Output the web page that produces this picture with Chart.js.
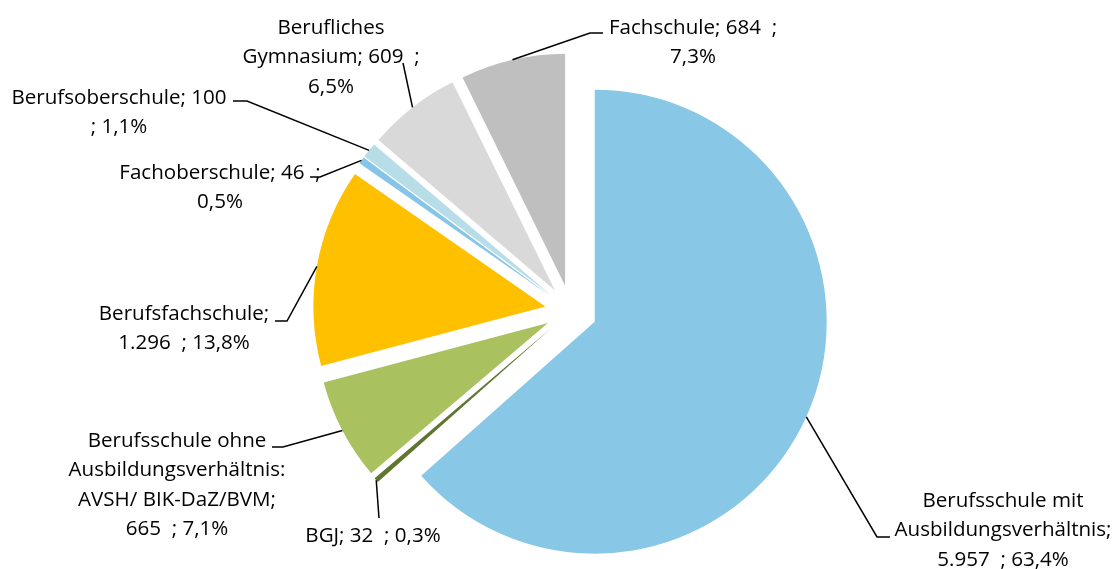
<!DOCTYPE html>
<html>
<head>
<meta charset="utf-8">
<script src="https://cdn.jsdelivr.net/npm/chart.js@4/dist/chart.umd.min.js"></script>
<style>
  html, body { margin: 0; padding: 0; background: #fff; }
  #c { display: block; }
</style>
</head>
<body>
<canvas id="c" width="1118" height="569"></canvas>
<script>
// ---- data ----
const categories = [
  "Berufsschule mit\nAusbildungsverhältnis",
  "BGJ",
  "Berufsschule ohne\nAusbildungsverhältnis:\nAVSH/ BIK-DaZ/BVM",
  "Berufsfachschule",
  "Fachoberschule",
  "Berufsoberschule",
  "Berufliches\nGymnasium",
  "Fachschule"
];
const values = [5957, 32, 665, 1296, 46, 100, 609, 684];
const colors = ["#89C7E7", "#5F7530", "#A9C15E", "#FFC000", "#86C4E8", "#B7DEE8", "#D9D9D9", "#BFBFBF"];

// ---- label layout (text format and placement) ----
const labelFormats = [
  "{n};\n{v}  ; {p}",
  "{n}; {v}  ; {p}",
  "{n};\n{v}  ; {p}",
  "{n};\n{v}  ; {p}",
  "{n}; {v}  ;\n{p}",
  "{n}; {v}\n; {p}",
  "{n}; {v}  ;\n{p}",
  "{n}; {v}  ;\n{p}"
];
// text block center x, first line y, leader-line path after the arc point
const labelLayout = [
  { x: 1003, y: 501, path: [[877, 537], [890, 537]] },
  { x: 373,  y: 536, path: [[379, 518]] },
  { x: 177,  y: 441, path: [[283, 447], [272, 447]] },
  { x: 184,  y: 314, path: [[287, 321], [275, 321]] },
  { x: 220,  y: 173, path: [[320, 177], [310, 177]] },
  { x: 119,  y: 98,  path: [[247, 101], [233, 101]] },
  { x: 331,  y: 28,  path: [[403, 63]] },
  { x: 693,  y: 28,  path: [[590, 33], [603, 33]] }
];
const explode = 26;
const lineHeight = 29.5;
const fontFamily = "'Open Sans'";
const fitText = "Ausbildungsverhältnis;";
const fitWidth = 217;

const total = values.reduce((a, b) => a + b, 0);
function fmtNum(v) { return String(v).replace(/\B(?=(\d{3})+(?!\d))/g, "."); }
function fmtPct(v) { return (v / total * 100).toFixed(1).replace(".", ","); }

const explodePlugin = {
  id: "explode",
  afterDatasetsUpdate(chart) {
    const meta = chart.getDatasetMeta(0);
    meta.data.forEach(el => {
      const mid = (el.startAngle + el.endAngle) / 2;
      el.x += Math.cos(mid) * explode;
      el.y += Math.sin(mid) * explode;
    });
  }
};

const labelPlugin = {
  id: "pieLabels",
  afterDraw(chart) {
    const ctx = chart.ctx;
    const meta = chart.getDatasetMeta(0);
    ctx.save();
    ctx.font = "100px " + fontFamily;
    const size = 100 * fitWidth / ctx.measureText(fitText).width;
    meta.data.forEach((el, i) => {
      const mid = (el.startAngle + el.endAngle) / 2;
      const ax = el.x + Math.cos(mid) * el.outerRadius;
      const ay = el.y + Math.sin(mid) * el.outerRadius;
      const lay = labelLayout[i];
      ctx.beginPath();
      ctx.moveTo(ax, ay);
      lay.path.forEach(p => ctx.lineTo(p[0], p[1]));
      ctx.strokeStyle = "#000";
      ctx.lineWidth = 1.5;
      ctx.stroke();

      const text = labelFormats[i]
        .replace("{n}", categories[i])
        .replace("{v}", fmtNum(values[i]))
        .replace("{p}", fmtPct(values[i]) + "%");
      const lines = text.split("\n");
      ctx.fillStyle = "#000";
      ctx.font = size.toFixed(2) + "px " + fontFamily;
      ctx.textAlign = "center";
      ctx.textBaseline = "middle";
      lines.forEach((ln, k) => ctx.fillText(ln, lay.x, lay.y + k * lineHeight));
    });
    ctx.restore();
  }
};

new Chart(document.getElementById("c"), {
  type: "pie",
  data: {
    labels: categories.map(c => c.replace(/\n/g, " ")),
    datasets: [{
      data: values,
      backgroundColor: colors,
      borderWidth: 0,
      radius: 232
    }]
  },
  options: {
    responsive: false,
    animation: false,
    events: [],
    layout: { padding: { left: 24, top: 53, right: 0, bottom: 0 } },
    plugins: { legend: { display: false }, tooltip: { enabled: false } }
  },
  plugins: [explodePlugin, labelPlugin]
});
</script>
</body>
</html>
